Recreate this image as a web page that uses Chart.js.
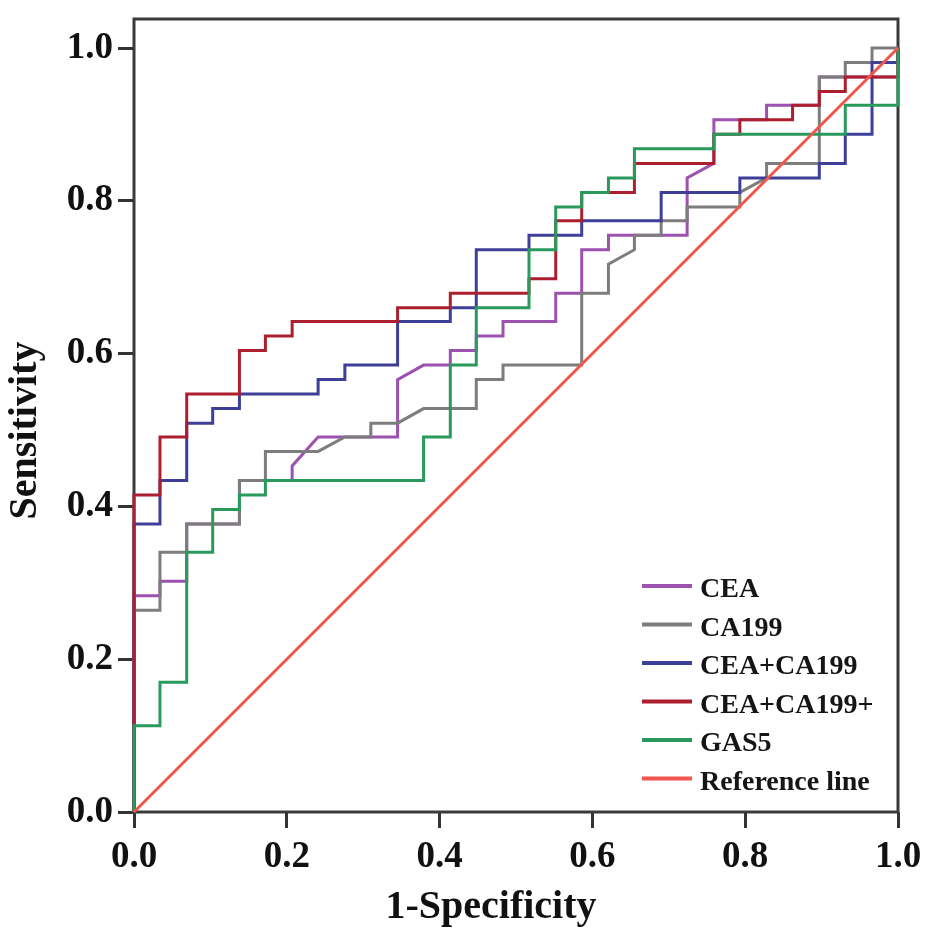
<!DOCTYPE html>
<html>
<head>
<meta charset="utf-8">
<title>ROC curves</title>
<script src="https://cdn.jsdelivr.net/npm/chart.js@4.4.0/dist/chart.umd.min.js"></script>
<style>
  body { margin: 0; background: #fff; }
  #wrap { width: 945px; height: 948px; position: relative; }
</style>
</head>
<body>
<div id="wrap"><canvas id="roc_chart"></canvas></div>
<script>
// series names + colours (legend order)
const seriesNames = ["CEA", "CA199", "CEA+CA199", "CEA+CA199+", "GAS5", "Reference line"];
const seriesColors = ["#9c52ae", "#7d7d7d", "#3d3f98", "#ad1f2e", "#2a9a5c", "#f0564c"];

// 1-specificity / sensitivity
const ceaFpr = [0, 0, 0.034, 0.034, 0.069, 0.069, 0.138, 0.138, 0.207, 0.207, 0.241, 0.345, 0.345, 0.379, 0.414, 0.414, 0.448, 0.448, 0.483, 0.483, 0.552, 0.552, 0.586, 0.586, 0.621, 0.621, 0.724, 0.724, 0.759, 0.759, 0.828, 0.828, 0.897, 0.897, 1, 1];
const ceaTpr = [0, 0.283, 0.283, 0.302, 0.302, 0.377, 0.377, 0.434, 0.434, 0.453, 0.491, 0.491, 0.566, 0.585, 0.585, 0.604, 0.604, 0.623, 0.623, 0.642, 0.642, 0.679, 0.679, 0.736, 0.736, 0.755, 0.755, 0.830, 0.849, 0.906, 0.906, 0.925, 0.925, 0.962, 0.962, 1];

const ca199Fpr = [0, 0, 0.034, 0.034, 0.069, 0.069, 0.138, 0.138, 0.172, 0.172, 0.241, 0.276, 0.310, 0.310, 0.345, 0.379, 0.448, 0.448, 0.483, 0.483, 0.586, 0.586, 0.621, 0.621, 0.655, 0.655, 0.690, 0.690, 0.724, 0.724, 0.793, 0.793, 0.828, 0.828, 0.897, 0.897, 0.931, 0.931, 0.966, 0.966, 1];
const ca199Tpr = [0, 0.264, 0.264, 0.340, 0.340, 0.377, 0.377, 0.434, 0.434, 0.472, 0.472, 0.491, 0.491, 0.509, 0.509, 0.528, 0.528, 0.566, 0.566, 0.585, 0.585, 0.679, 0.679, 0.717, 0.736, 0.755, 0.755, 0.774, 0.774, 0.792, 0.792, 0.811, 0.830, 0.849, 0.849, 0.962, 0.962, 0.981, 0.981, 1, 1];

const comboFpr = [0, 0, 0.034, 0.034, 0.069, 0.069, 0.103, 0.103, 0.138, 0.138, 0.241, 0.241, 0.276, 0.276, 0.345, 0.345, 0.414, 0.414, 0.448, 0.448, 0.517, 0.517, 0.586, 0.586, 0.690, 0.690, 0.793, 0.793, 0.897, 0.897, 0.931, 0.931, 0.966, 0.966, 1, 1];
const comboTpr = [0, 0.377, 0.377, 0.434, 0.434, 0.509, 0.509, 0.528, 0.528, 0.547, 0.547, 0.566, 0.566, 0.585, 0.585, 0.642, 0.642, 0.660, 0.660, 0.736, 0.736, 0.755, 0.755, 0.774, 0.774, 0.811, 0.811, 0.830, 0.830, 0.849, 0.849, 0.887, 0.887, 0.981, 0.981, 1];

const comboPlusFpr = [0, 0, 0.034, 0.034, 0.069, 0.069, 0.138, 0.138, 0.172, 0.172, 0.207, 0.207, 0.345, 0.345, 0.414, 0.414, 0.517, 0.517, 0.552, 0.552, 0.586, 0.586, 0.655, 0.655, 0.759, 0.759, 0.793, 0.793, 0.862, 0.862, 0.897, 0.897, 0.931, 0.931, 1, 1];
const comboPlusTpr = [0, 0.415, 0.415, 0.491, 0.491, 0.547, 0.547, 0.604, 0.604, 0.623, 0.623, 0.642, 0.642, 0.660, 0.660, 0.679, 0.679, 0.698, 0.698, 0.774, 0.774, 0.811, 0.811, 0.849, 0.849, 0.887, 0.887, 0.906, 0.906, 0.925, 0.925, 0.943, 0.943, 0.962, 0.962, 1];

const gas5Fpr = [0, 0, 0.034, 0.034, 0.069, 0.069, 0.103, 0.103, 0.138, 0.138, 0.172, 0.172, 0.379, 0.379, 0.414, 0.414, 0.448, 0.448, 0.517, 0.517, 0.552, 0.552, 0.586, 0.586, 0.621, 0.621, 0.655, 0.655, 0.759, 0.759, 0.931, 0.931, 1, 1];
const gas5Tpr = [0, 0.113, 0.113, 0.170, 0.170, 0.340, 0.340, 0.396, 0.396, 0.415, 0.415, 0.434, 0.434, 0.491, 0.491, 0.585, 0.585, 0.660, 0.660, 0.736, 0.736, 0.792, 0.792, 0.811, 0.811, 0.830, 0.830, 0.868, 0.868, 0.887, 0.887, 0.925, 0.925, 1];

const refFpr = [0, 1];
const refTpr = [0, 1];

const xTicks = [0, 0.2, 0.4, 0.6, 0.8, 1.0];
const yTicks = [0, 0.2, 0.4, 0.6, 0.8, 1.0];

const curves = [
  [ceaFpr, ceaTpr],
  [ca199Fpr, ca199Tpr],
  [comboFpr, comboTpr],
  [comboPlusFpr, comboPlusTpr],
  [gas5Fpr, gas5Tpr],
  [refFpr, refTpr],
];

const serif = "'Liberation Serif', 'Times New Roman', serif";

const toPoints = (xs, ys) => xs.map((x, i) => ({ x: x, y: ys[i] }));

// box round the plot, under the lines
const framePlugin = {
  id: "frame",
  beforeDatasetsDraw(chart) {
    const { ctx, chartArea } = chart;
    ctx.save();
    ctx.strokeStyle = "#3a3a3a";
    ctx.lineWidth = 3;
    ctx.strokeRect(chartArea.left, chartArea.top, chartArea.right - chartArea.left, chartArea.bottom - chartArea.top);
    ctx.restore();
  },
};

// legend sits inside the plot, bottom right
const legendPlugin = {
  id: "innerLegend",
  afterDraw(chart) {
    const ctx = chart.ctx;
    ctx.save();
    ctx.font = "bold 28px " + serif;
    ctx.textBaseline = "middle";
    ctx.textAlign = "left";
    chart.data.datasets.forEach((ds, i) => {
      const y = 590 + i * 38.5;
      ctx.strokeStyle = ds.borderColor;
      ctx.lineWidth = 4;
      ctx.beginPath();
      ctx.moveTo(642, y - 4);
      ctx.lineTo(692, y - 4);
      ctx.stroke();
      ctx.fillStyle = "#151515";
      ctx.fillText(ds.label, 700, y);
    });
    ctx.restore();
  },
};

const rocChart = () => {
  const datasets = seriesNames.map((name, i) => ({
    label: name,
    data: toPoints(curves[i][0], curves[i][1]),
    borderColor: seriesColors[i],
    backgroundColor: seriesColors[i],
    borderWidth: 3,
    pointRadius: 0,
    tension: 0,
    fill: false,
    clip: 4,
    order: seriesNames.length - i,
  }));

  const config = {
    type: "line",
    data: { datasets: datasets },
    options: {
      responsive: true,
      maintainAspectRatio: false,
      animation: false,
      layout: { padding: { top: 19, right: 47, bottom: 0, left: 0 } },
      plugins: {
        legend: { display: false },
        tooltip: { enabled: false },
      },
      scales: {
        x: {
          type: "linear",
          min: 0,
          max: 1,
          afterBuildTicks: (scale) => {
            scale.ticks = xTicks.map((v) => ({ value: v }));
          },
          afterFit: (scale) => {
            scale.height = 136;
            scale.paddingLeft = 0;
            scale.paddingRight = 0;
          },
          border: { display: false },
          grid: {
            drawOnChartArea: false,
            drawTicks: true,
            tickLength: 16,
            tickWidth: 3,
            tickColor: "#333",
          },
          ticks: {
            padding: 7,
            color: "#111",
            maxRotation: 0,
            autoSkip: false,
            font: { family: serif, size: 37, weight: "bold" },
            callback: (v) => Number(v).toFixed(1),
          },
          title: {
            display: true,
            text: "1-Specificity     ",
            color: "#111",
            font: { family: serif, size: 40, weight: "bold" },
            padding: { top: 0, bottom: 16 },
          },
        },
        y: {
          type: "linear",
          min: 0,
          max: 1.038,
          afterBuildTicks: (scale) => {
            scale.ticks = yTicks.map((v) => ({ value: v }));
          },
          afterFit: (scale) => {
            scale.width = 134;
            scale.paddingTop = 0;
            scale.paddingBottom = 0;
          },
          border: { display: false },
          grid: {
            drawOnChartArea: false,
            drawTicks: true,
            tickLength: 16,
            tickWidth: 3,
            tickColor: "#333",
          },
          ticks: {
            padding: 5,
            color: "#111",
            autoSkip: false,
            font: { family: serif, size: 37, weight: "bold" },
            callback: (v) => Number(v).toFixed(1),
          },
          title: {
            display: true,
            text: "Sensitivity   ",
            color: "#111",
            font: { family: serif, size: 40, weight: "bold" },
            padding: { top: 2, bottom: 0 },
          },
        },
      },
    },
    plugins: [framePlugin, legendPlugin],
  };

  return new Chart(document.getElementById("roc_chart"), config);
};

rocChart();
</script>
</body>
</html>
